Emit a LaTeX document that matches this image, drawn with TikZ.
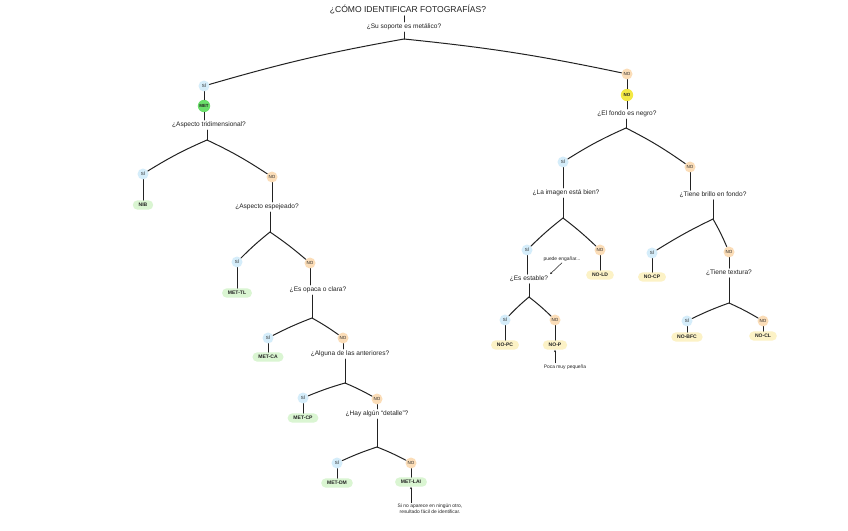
\documentclass[tikz,border=0pt]{standalone}
\usepackage{fontspec}
\setmainfont{Liberation Sans}
\usetikzlibrary{arrows.meta}
\definecolor{siblue}{HTML}{D5EDFA}
\definecolor{noorange}{HTML}{FBDDB8}
\definecolor{metgreen}{HTML}{6ADF6A}
\definecolor{noyellow}{HTML}{F3E845}
\definecolor{leafgreen}{HTML}{DAF5D2}
\definecolor{leafyellow}{HTML}{FCF2C6}
\definecolor{ink}{HTML}{222222}
\tikzset{
  ttl/.style={font=\fontsize{7.3}{8}\selectfont, inner sep=1pt, text=ink},
  qq/.style={font=\fontsize{5.6}{6.5}\selectfont, inner sep=1.5pt, text=ink},
  yesc/.style={circle, fill=siblue, inner sep=0pt, minimum size=0.33cm, font=\fontsize{3.8}{4}\selectfont, text=ink},
  noc/.style={circle, fill=noorange, inner sep=0pt, minimum size=0.33cm, font=\fontsize{3.8}{4}\selectfont, text=ink},
  metc/.style={circle, fill=metgreen, inner sep=0pt, minimum size=0.37cm, font=\fontsize{3.8}{4}\selectfont\bfseries, text=ink},
  noyc/.style={circle, fill=noyellow, inner sep=0pt, minimum size=0.37cm, font=\fontsize{3.8}{4}\selectfont\bfseries, text=ink},
  leafm/.style={rounded corners=0.14cm, fill=leafgreen, minimum height=0.28cm, inner xsep=5pt, inner ysep=1pt, font=\fontsize{4.3}{5}\selectfont\bfseries, text=ink},
  leafn/.style={rounded corners=0.14cm, fill=leafyellow, minimum height=0.28cm, inner xsep=5pt, inner ysep=1pt, font=\fontsize{4.3}{5}\selectfont\bfseries, text=ink},
  notet/.style={font=\fontsize{4.2}{5.2}\selectfont, inner sep=1pt, align=center, text=ink},
  ln/.style={draw=ink, line width=0.85pt, line cap=round},
  arr/.style={draw=ink, line width=0.45pt, -{Stealth[length=1.8pt,width=1.8pt]}},
}
\begin{document}
\begin{tikzpicture}[x=0.03cm, y=-0.03cm]
\useasboundingbox[fill=white] (0,0) rectangle (848,530);
% top
\node[ttl] (t) at (408,10) {¿CÓMO IDENTIFICAR FOTOGRAFÍAS?};
\node[qq] (q0) at (404,27) {¿Su soporte es metálico?};
\coordinate (s0) at (404,39);
\node[yesc] (y0) at (204,86) {SÍ};
\node[noc] (n0) at (627,74) {NO};
\draw[ln] (t.south -| q0) -- (q0);
\draw[ln] (q0) -- (s0);
\draw[ln] (s0) to[bend right=3] (y0);
\draw[ln] (s0) to[bend left=3] (n0);
% left
\node[metc] (m0) at (204,106) {MET};
\node[qq] (qa) at (209,125) {¿Aspecto tridimensional?};
\coordinate (sa) at (207,140);
\node[yesc] (ya) at (143,174) {SÍ};
\node[leafm] (la) at (143,205) {NIB};
\node[noc] (na) at (272,177) {NO};
\node[qq] (qb) at (267,207) {¿Aspecto espejeado?};
\coordinate (sb) at (270,232);
\node[yesc] (yb) at (237,262) {SÍ};
\node[leafm] (lb) at (237,293) {MET-TL};
\node[noc] (nb) at (310,263) {NO};
\node[qq] (qc) at (318,290) {¿Es opaca o clara?};
\coordinate (sc) at (312,318);
\node[yesc] (yc) at (268,338) {SÍ};
\node[leafm] (lc) at (268,357) {MET-CA};
\node[noc] (nc) at (343,338) {NO};
\node[qq] (qd) at (350,354) {¿Alguna de las anteriores?};
\coordinate (sd) at (345,383);
\node[yesc] (yd) at (303,398) {SÍ};
\node[leafm] (ld) at (303,418) {MET-CP};
\node[noc] (nd) at (377,399) {NO};
\node[qq] (qe) at (377,414) {¿Hay algún “detalle”?};
\coordinate (se) at (377,447);
\node[yesc] (ye) at (337,463) {SÍ};
\node[leafm] (le) at (337,483) {MET-DM};
\node[noc] (ne) at (411,463) {NO};
\node[leafm] (lf) at (411,482) {MET-LAI};
\node[notet] (note1) at (430,509) {Si no aparece en ningún otro,\\ resultado fácil de identificar.};
\draw[ln] (y0) -- (m0);
\draw[ln] (m0) -- (qa.north -| m0);
\draw[ln] (qa.south -| sa) -- (sa);
\draw[ln] (sa) to[bend right=4] (ya);
\draw[ln] (sa) to[bend left=4] (na);
\draw[ln] (ya) -- (la);
\draw[ln] (na) -- (qb.north -| na);
\draw[ln] (qb.south -| sb) -- (sb);
\draw[ln] (sb) to[bend right=3] (yb);
\draw[ln] (sb) to[bend left=3] (nb);
\draw[ln] (yb) -- (lb);
\draw[ln] (nb) -- (qc.north -| nb);
\draw[ln] (qc.south -| sc) -- (sc);
\draw[ln] (sc) to[bend right=3] (yc);
\draw[ln] (sc) to[bend left=3] (nc);
\draw[ln] (yc) -- (lc);
\draw[ln] (nc) -- (qd.north -| nc);
\draw[ln] (qd.south -| sd) -- (sd);
\draw[ln] (sd) to[bend right=3] (yd);
\draw[ln] (sd) to[bend left=3] (nd);
\draw[ln] (yd) -- (ld);
\draw[ln] (nd) -- (qe);
\draw[ln] (qe) -- (se);
\draw[ln] (se) to[bend right=3] (ye);
\draw[ln] (se) to[bend left=3] (ne);
\draw[ln] (ye) -- (le);
\draw[ln] (ne) -- (lf);
\draw[arr] (note1.north -| lf) -- (lf);
% right
\node[noyc] (m1) at (627,95) {NO};
\node[qq] (qf) at (627,114) {¿El fondo es negro?};
\coordinate (sf) at (626,128);
\node[yesc] (yf) at (563,162) {SÍ};
\node[qq] (qg) at (566,193) {¿La imagen está bien?};
\coordinate (sg) at (563,218);
\node[noc] (nf) at (690,167) {NO};
\node[qq] (qh) at (713,195) {¿Tiene brillo en fondo?};
\coordinate (sh) at (713,219);
\node[yesc] (yg) at (527,250) {SÍ};
\node[qq] (qi) at (529,279) {¿Es estable?};
\coordinate (si) at (529,297);
\node[noc] (ng) at (600,250) {NO};
\node[leafn] (lg) at (600,275) {NO-LD};
\node[notet] (note2) at (562,259) {puede engañar...};
\node[yesc] (yi) at (505,320) {SÍ};
\node[leafn] (lh) at (505,345) {NO-PC};
\node[noc] (ni) at (555,320) {NO};
\node[leafn] (li) at (555,345) {NO-P};
\node[notet] (note3) at (565,367) {Poca muy pequeña};
\node[yesc] (yh) at (652,253) {SÍ};
\node[leafn] (lj) at (652,277) {NO-CP};
\node[noc] (nh) at (729,252) {NO};
\node[qq] (qj) at (729,273) {¿Tiene textura?};
\coordinate (sj) at (729,303);
\node[yesc] (yj) at (687,321) {SÍ};
\node[leafn] (lk) at (687,337) {NO-BFC};
\node[noc] (nj) at (763,321) {NO};
\node[leafn] (ll) at (763,336) {NO-CL};
\draw[ln] (n0) -- (m1);
\draw[ln] (m1) -- (qf);
\draw[ln] (qf.south -| sf) -- (sf);
\draw[ln] (sf) to[bend right=4] (yf);
\draw[ln] (sf) to[bend left=4] (nf);
\draw[ln] (yf) -- (qg.north -| yf);
\draw[ln] (qg.south -| sg) -- (sg);
\draw[ln] (sg) to[bend right=3] (yg);
\draw[ln] (sg) to[bend left=3] (ng);
\draw[ln] (ng) -- (lg);
\draw[ln] (yg) -- (qi.north -| yg);
\draw[arr] (note2.south) -- (qi.north east);
\draw[ln] (qi.south -| si) -- (si);
\draw[ln] (si) to[bend right=3] (yi);
\draw[ln] (si) to[bend left=3] (ni);
\draw[ln] (yi) -- (lh);
\draw[ln] (ni) -- (li);
\draw[arr] (note3.north -| li) -- (li);
\draw[ln] (nf) -- (qh.north -| nf);
\draw[ln] (qh.south -| sh) -- (sh);
\draw[ln] (sh) to[bend right=3] (yh);
\draw[ln] (sh) to[bend left=3] (nh);
\draw[ln] (yh) -- (lj);
\draw[ln] (nh) -- (qj);
\draw[ln] (qj) -- (sj);
\draw[ln] (sj) to[bend right=3] (yj);
\draw[ln] (sj) to[bend left=3] (nj);
\draw[ln] (yj) -- (lk);
\draw[ln] (nj) -- (ll);
\end{tikzpicture}
\end{document}
